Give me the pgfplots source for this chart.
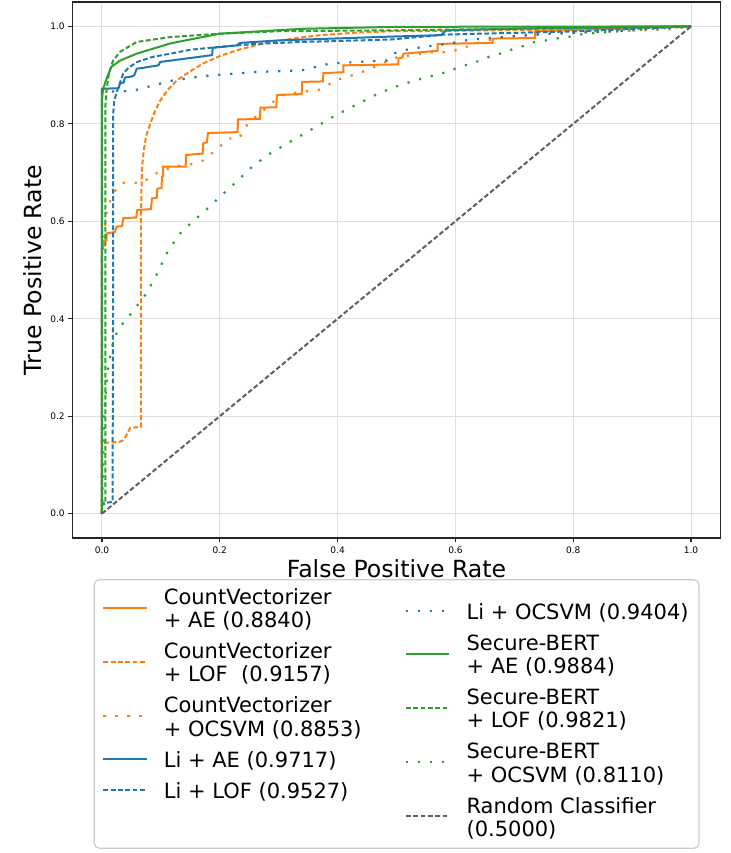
\documentclass[border=0pt]{standalone}
\usepackage{fontspec}
\setmainfont{DejaVu Sans}
\usepackage{pgfplots}
\pgfplotsset{compat=1.18}
\definecolor{cO}{HTML}{FF7F0E}
\definecolor{cB}{HTML}{1F77B4}
\definecolor{cG}{HTML}{2CA02C}
\definecolor{cR}{HTML}{5F5F5F}
\newcommand\ls{\rule[-1.575pt]{0pt}{11.65pt}}
\tikzset{
  rocsol/.style={line width=1pt},
  rocdsh/.style={line width=1pt, dash pattern=on 2.4pt off 1.25pt},
  rocdot/.style={line width=1.1pt, dash pattern=on 1.1pt off 4.9pt},
}
\pgfplotsset{
  leg/.style={
    legend image code/.code={\draw[##1] (0pt,0pt) -- (21.7pt,0pt);},
    legend style={draw=none, fill=none, inner sep=0pt, outer sep=0pt, row sep=3.85pt, column sep=8pt,
      font=\fontsize{10.5}{11.65}\selectfont,
      nodes={inner sep=0pt, outer sep=0pt, text depth=1.575pt},
      cells={anchor=west, align=left}},
  },
}
\begin{document}
\begin{tikzpicture}
\useasboundingbox (-36.25pt,-157.5pt) rectangle (329.25pt,269pt);
\begin{axis}[name=main, at={(0,0)}, anchor=south west,
  scale only axis, width=324pt, height=268pt,
  xmin=-0.05, xmax=1.05, ymin=-0.05, ymax=1.05,
  xtick={0,0.2,0.4,0.6,0.8,1}, ytick={0,0.2,0.4,0.6,0.8,1},
  xticklabels={0.0,0.2,0.4,0.6,0.8,1.0}, yticklabels={0.0,0.2,0.4,0.6,0.8,1.0},
  /pgf/number format/assume math mode=true,
  ticklabel style={font=\fontsize{4.5}{5}\selectfont, inner sep=0pt},
  xticklabel style={anchor=north}, yticklabel style={anchor=east},
  xticklabel shift=2pt, yticklabel shift=1.75pt,
  tick pos=left,
  tick align=outside, major tick length=2pt,
  tick style={black!85, line width=0.6pt},
  axis line style={black!85, line width=0.6pt},
  grid=major, major grid style={black!12, line width=0.5pt},
  xlabel={False Positive Rate}, ylabel={True Positive Rate},
  every axis x label/.style={at={(axis description cs:0.5,-0.0728)}, anchor=base, font=\fontsize{11.8}{14}\selectfont},
  every axis y label/.style={at={(axis description cs:-0.0486,0.5)}, rotate=90, anchor=base, font=\fontsize{11.8}{14}\selectfont},
  leg,
  legend style={at={(axis description cs:0.046,-0.0862)}, anchor=north west},
]
% CountVectorizer + AE
\addplot[cO, rocsol] coordinates {(0,0) (0,0.545) (0.003,0.55) (0.003,0.561) (0.008,0.561) (0.008,0.575) (0.022,0.578) (0.025,0.589) (0.034,0.59) (0.036,0.606) (0.058,0.608) (0.06,0.623) (0.083,0.625) (0.085,0.647) (0.093,0.648) (0.094,0.667) (0.101,0.668) (0.102,0.691) (0.104,0.692) (0.104,0.712) (0.142,0.712) (0.143,0.736) (0.171,0.739) (0.172,0.76) (0.178,0.762) (0.18,0.781) (0.23,0.783) (0.231,0.809) (0.268,0.81) (0.269,0.833) (0.296,0.834) (0.297,0.859) (0.339,0.861) (0.34,0.886) (0.375,0.887) (0.376,0.904) (0.41,0.906) (0.41,0.92) (0.503,0.922) (0.503,0.934) (0.51,0.936) (0.512,0.944) (0.57,0.95) (0.57,0.964) (0.663,0.966) (0.663,0.975) (0.735,0.976) (0.735,0.99) (0.87,0.995) (1,1)};
\addlegendentry{\ls CountVectorizer\\\ls + AE (0.8840)}
% CountVectorizer + LOF
\addplot[cO, rocdsh] coordinates {(0,0) (0,0.145) (0.029,0.147) (0.035,0.150) (0.039,0.156) (0.044,0.166) (0.048,0.176) (0.066,0.178) (0.066,0.60) (0.067,0.66) (0.068,0.71) (0.071,0.746) (0.075,0.775) (0.082,0.80) (0.09,0.826) (0.099,0.848) (0.112,0.87) (0.127,0.889) (0.15,0.908) (0.172,0.924) (0.2,0.939) (0.229,0.951) (0.257,0.96) (0.286,0.968) (0.33,0.976) (0.371,0.982) (0.43,0.987) (0.49,0.99) (0.6,0.991) (0.728,0.993) (0.85,0.996) (1,1)};
\addlegendentry{\ls CountVectorizer\\\ls + LOF~ (0.9157)}
% CountVectorizer + OCSVM
\addplot[cO, rocdot] coordinates {(0,0) (0,0.527) (0.004,0.58) (0.008,0.619) (0.014,0.643) (0.022,0.662) (0.034,0.679) (0.053,0.679) (0.071,0.68) (0.085,0.695) (0.102,0.703) (0.12,0.712) (0.138,0.715) (0.155,0.718) (0.172,0.725) (0.187,0.74) (0.2,0.753) (0.215,0.77) (0.233,0.77) (0.24,0.787) (0.252,0.807) (0.269,0.821) (0.28,0.836) (0.308,0.859) (0.333,0.865) (0.367,0.869) (0.383,0.879) (0.4,0.891) (0.416,0.896) (0.45,0.91) (0.484,0.928) (0.5,0.936) (0.558,0.947) (0.59,0.947) (0.614,0.956) (0.643,0.968) (0.682,0.978) (0.757,0.985) (0.87,0.99) (0.966,0.994) (1,1)};
\addlegendentry{\ls CountVectorizer\\\ls + OCSVM (0.8853)}
% Li + AE
\addplot[cB, rocsol] coordinates {(0,0) (0,0.872) (0.028,0.873) (0.031,0.883) (0.037,0.885) (0.039,0.895) (0.05,0.897) (0.055,0.9) (0.059,0.913) (0.07,0.915) (0.096,0.92) (0.099,0.927) (0.187,0.941) (0.188,0.956) (0.229,0.961) (0.234,0.966) (0.297,0.971) (0.49,0.979) (0.575,0.982) (0.585,0.992) (0.728,0.996) (1,1)};
\addlegendentry{\ls Li + AE (0.9717)}
% Li + LOF
\addplot[cB, rocdsh] coordinates {(0,0) (0,0.018) (0.004,0.022) (0.018,0.024) (0.019,0.5) (0.019,0.82) (0.021,0.848) (0.027,0.872) (0.036,0.903) (0.045,0.915) (0.06,0.927) (0.085,0.937) (0.116,0.944) (0.15,0.952) (0.2,0.958) (0.26,0.964) (0.34,0.968) (0.49,0.973) (0.58,0.983) (0.643,0.985) (0.81,0.99) (1,1)};
\addlegendentry{\ls Li + LOF (0.9527)}
% Li + OCSVM
\addplot[cB, rocdot, forget plot] coordinates {(0,0) (0,0.866) (0.05,0.867) (0.087,0.879) (0.12,0.889) (0.172,0.898) (0.257,0.906) (0.34,0.91) (0.388,0.924) (0.484,0.93) (0.495,0.944) (0.512,0.951) (0.546,0.958) (0.586,0.964) (0.626,0.973) (0.682,0.978) (0.757,0.985) (0.87,0.99) (1,1)};
% Secure-BERT + AE
\addplot[cG, rocsol, forget plot] coordinates {(0,0) (0,0.85) (0.002,0.872) (0.008,0.893) (0.016,0.917) (0.031,0.93) (0.059,0.944) (0.116,0.965) (0.2,0.985) (0.34,0.995) (0.5,0.999) (1,1)};
% Secure-BERT + LOF
\addplot[cG, rocdsh, forget plot] coordinates {(0,0) (0,0.018) (0.006,0.02) (0.006,0.84) (0.008,0.87) (0.012,0.905) (0.019,0.93) (0.031,0.948) (0.059,0.968) (0.116,0.978) (0.2,0.985) (0.3,0.99) (0.5,0.992) (0.7,0.995) (1,1)};
% Secure-BERT + OCSVM
\addplot[cG, rocdot, forget plot] coordinates {(0,0) (0.002,0.1) (0.004,0.2) (0.007,0.26) (0.009,0.285) (0.012,0.309) (0.015,0.332) (0.02,0.355) (0.027,0.377) (0.039,0.396) (0.051,0.413) (0.063,0.432) (0.075,0.451) (0.084,0.471) (0.093,0.491) (0.11,0.534) (0.13,0.572) (0.158,0.604) (0.172,0.618) (0.2,0.65) (0.228,0.681) (0.255,0.712) (0.284,0.738) (0.316,0.761) (0.348,0.783) (0.365,0.795) (0.396,0.817) (0.43,0.838) (0.464,0.859) (0.481,0.868) (0.498,0.876) (0.518,0.884) (0.535,0.89) (0.555,0.897) (0.574,0.902) (0.592,0.91) (0.609,0.917) (0.626,0.924) (0.643,0.93) (0.663,0.941) (0.68,0.945) (0.699,0.954) (0.716,0.96) (0.735,0.968) (0.753,0.971) (0.77,0.975) (0.79,0.978) (0.81,0.983) (0.826,0.985) (0.845,0.987) (0.9,0.992) (1,1)};
% Random
\addplot[cR, rocdsh, forget plot] coordinates {(0,0) (1,1)};
\end{axis}
\begin{axis}[at={(0,0)}, anchor=south west,
  scale only axis, width=324pt, height=268pt, hide axis,
  xmin=0, xmax=1, ymin=0, ymax=1,
  leg,
  legend style={at={(axis description cs:0.5131,-0.1142)}, anchor=north west},
]
\addlegendimage{cB, rocdot}
\addlegendentry{\ls Li + OCSVM (0.9404)}
\addlegendimage{cG, rocsol}
\addlegendentry{\ls Secure-BERT\\\ls + AE (0.9884)}
\addlegendimage{cG, rocdsh}
\addlegendentry{\ls Secure-BERT\\\ls + LOF (0.9821)}
\addlegendimage{cG, rocdot}
\addlegendentry{\ls Secure-BERT\\\ls + OCSVM (0.8110)}
\addlegendimage{cR, rocdsh}
\addlegendentry{\ls Random Classifier\\\ls (0.5000)}
\end{axis}
\draw[black!20, line width=0.6pt, rounded corners=2.5pt] ([shift={(10.9pt,-20.85pt)}]main.south west) rectangle ([shift={(-10.75pt,-155.15pt)}]main.south east);
\end{tikzpicture}
\end{document}
